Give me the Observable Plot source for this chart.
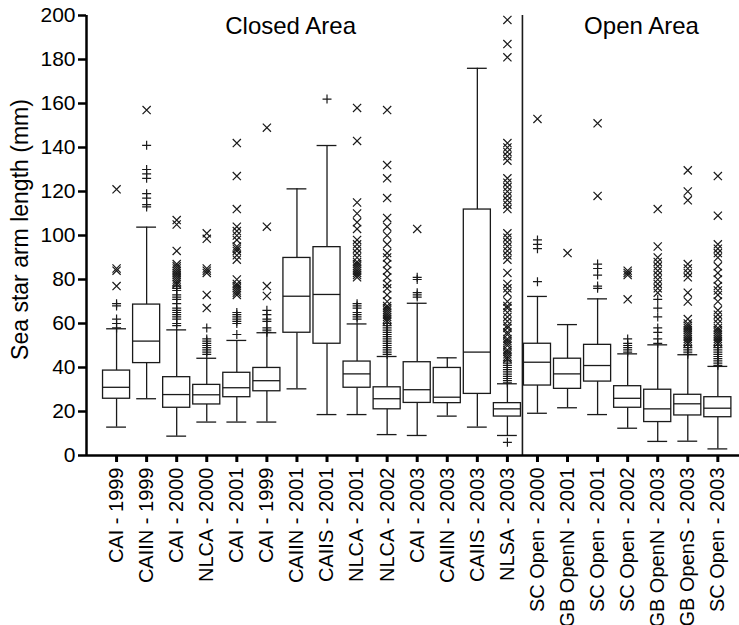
<!DOCTYPE html>
<html>
<head>
<meta charset="utf-8">
<script src="https://cdn.jsdelivr.net/npm/d3@7"></script>
<script src="https://cdn.jsdelivr.net/npm/@observablehq/plot@0.6"></script>
<style>
  html, body { margin: 0; padding: 0; background: #ffffff; }
  #chart { width: 739px; height: 625px; }
</style>
</head>
<body>
<div id="chart"></div>
<script>
const categories = ["CAI - 1999","CAIIN - 1999","CAI - 2000","NLCA - 2000","CAI - 2001","CAI - 1999","CAIIN - 2001","CAIIS - 2001","NLCA - 2001","NLCA - 2002","CAI - 2003","CAIIN - 2003","CAIIS - 2003","NLSA - 2003","SC Open - 2000","GB OpenN - 2001","SC Open - 2001","SC Open - 2002","GB OpenN - 2003","GB OpenS - 2003","SC Open - 2003"];

const lowWhisker  = [12.9, 25.8, 8.8, 15.2, 15.2, 15.2, 30.3, 18.6, 18.6, 9.5, 9.1, 17.9, 12.9, 9.1, 19.2, 21.7, 18.6, 12.4, 6.4, 6.5, 3];
const q1          = [25.8, 42, 21.7, 23.2, 26.5, 29.2, 55.8, 50.8, 30.8, 21, 23.9, 23.8, 28, 17.7, 31.8, 30.3, 33.6, 21.7, 15.2, 18.2, 17.4];
const median      = [31, 52, 27.7, 27.6, 30.8, 34, 72.4, 73.2, 37.1, 25.8, 29.9, 26.5, 47, 21.2, 42.4, 37.1, 40.9, 26, 21.2, 23.5, 21.5];
const q3          = [38.6, 68.6, 35.6, 32.1, 37.6, 39.8, 89.8, 94.7, 42.7, 31, 42.4, 39.8, 111.8, 23.8, 50.8, 44, 50.3, 31.5, 29.9, 27.6, 26.5];
const highWhisker = [57.6, 103.8, 57.1, 44.2, 52.3, 55.8, 121.2, 140.9, 59.8, 45, 69.2, 44.4, 176, 32.6, 72.3, 59.5, 71.2, 46.2, 50.3, 45.8, 40.5];

const plusOutliers = [
  [58, 60, 62, 68, 69],
  [113, 114, 117, 119, 126, 128, 130, 141],
  [59, 60, 62, 63, 64, 65, 66, 67, 69, 71, 72, 73, 75, 76, 77],
  [46, 47, 48, 49, 50, 51, 52, 53, 58],
  [55, 60, 61, 62, 63, 64, 65],
  [56, 57, 58, 61, 62, 64, 66],
  [],
  [162],
  [62, 63, 64, 65, 67, 68, 69],
  [46, 47, 48, 49, 50, 51, 52, 53, 54, 55, 56, 57, 58, 59, 60],
  [72, 73, 74, 80, 81],
  [],
  [],
  [6, 33, 34, 35, 36, 37, 38, 39, 40, 41, 42, 43],
  [79, 94, 96, 98],
  [],
  [76, 77, 82, 85, 87],
  [47, 48, 49, 50, 51, 53],
  [51, 53, 56, 58, 63, 67, 71],
  [46, 47, 48, 49, 50],
  [41, 42, 43, 44, 45, 46, 47, 48, 49, 50]
];

const timesOutliers = [
  [77, 84, 85, 121],
  [157],
  [78, 79, 80, 81, 82, 83, 84, 85, 86, 87, 93, 105, 107],
  [67, 73, 83, 84, 85, 98.5, 101],
  [73, 74, 75, 76, 77, 78, 80, 89, 91, 93, 94, 95, 98, 100, 102, 104, 112, 127, 142],
  [72.5, 77, 104, 149],
  [],
  [],
  [81, 82, 83, 84, 85, 86, 87, 88, 90, 92, 94, 96, 98, 103, 106, 110, 115, 143, 158],
  [61, 62, 63, 64, 65, 66, 67, 68, 70, 73, 76, 78, 81, 84, 87, 90, 92, 96, 100, 104, 108, 117, 126, 132, 157],
  [103],
  [],
  [],
  [44, 45, 46, 47, 48, 50, 51, 52, 53, 55, 56, 58, 59, 61, 63, 65, 67, 68, 70, 74, 76, 78, 83, 89, 91, 93, 95, 97, 99, 101, 112, 114, 116, 118, 120, 122, 124, 126, 134, 136, 138, 140, 142, 181, 187, 198],
  [153],
  [92],
  [118, 151],
  [71, 82, 83, 84],
  [74, 76, 78, 80, 82, 84, 86, 88, 90, 95, 112],
  [51, 52, 53, 54, 55, 56, 57, 58, 59, 60, 62, 70, 74, 81, 83, 85, 87, 116, 120, 129.6],
  [51, 52, 53, 54, 55, 56, 57, 58, 60, 62, 64, 66, 70, 73, 75, 77, 80, 83, 86, 90, 92, 94, 96, 109, 127]
];

const yTicks = [0, 20, 40, 60, 80, 100, 120, 140, 160, 180, 200];
const areaLabels = [
  {label: "Closed Area", x: 5.79, y: 195},
  {label: "Open Area", x: 17.46, y: 195}
];
const dividerAt = [13.5];
const yLabel = "Sea star arm length (mm)";

const boxes = categories.map((c, i) => ({
  i, c, lo: lowWhisker[i], q1: q1[i], med: median[i], q3: q3[i], hi: highWhisker[i]
}));
const outliers = [];
plusOutliers.forEach((arr, i) => arr.forEach(v => outliers.push({i, v, kind: "plus"})));
timesOutliers.forEach((arr, i) => arr.forEach(v => outliers.push({i, v, kind: "times"})));

const HALF = 0.45, CAP = 0.33;
const ink = "#1a1a1a";

const chart = Plot.plot({
  width: 739,
  height: 625,
  marginLeft: 86,
  marginRight: 0,
  marginTop: 15,
  marginBottom: 170,
  x: {domain: [-1, 20.72]},
  y: {domain: [0, 200]},
  style: {fontFamily: "'Liberation Sans', Arial, Helvetica, sans-serif", background: "#ffffff", color: "#000"},
  marks: [
    // whiskers
    Plot.ruleX(boxes, {x: "i", y1: "lo", y2: "q1", stroke: ink, strokeWidth: 1.3}),
    Plot.ruleX(boxes, {x: "i", y1: "q3", y2: "hi", stroke: ink, strokeWidth: 1.3}),
    Plot.ruleY(boxes, {y: "lo", x1: d => d.i - CAP, x2: d => d.i + CAP, stroke: ink, strokeWidth: 1.3}),
    Plot.ruleY(boxes, {y: "hi", x1: d => d.i - CAP, x2: d => d.i + CAP, stroke: ink, strokeWidth: 1.3}),
    // boxes
    Plot.rect(boxes, {x1: d => d.i - HALF, x2: d => d.i + HALF, y1: "q1", y2: "q3", fill: "#ffffff", stroke: ink, strokeWidth: 1.3}),
    Plot.ruleY(boxes, {y: "med", x1: d => d.i - HALF, x2: d => d.i + HALF, stroke: ink, strokeWidth: 1.3}),
    // outliers
    Plot.dot(outliers.filter(d => d.kind === "plus"), {x: "i", y: "v", symbol: "plus", r: 3, stroke: ink, strokeWidth: 1.2}),
    Plot.dot(outliers.filter(d => d.kind === "times"), {x: "i", y: "v", symbol: "times", r: 3.8, stroke: ink, strokeWidth: 1.2}),
    // divider
    Plot.ruleX(dividerAt, {y1: 0, y2: 200, stroke: ink, strokeWidth: 1.6}),
    // axes
    Plot.axisY({ticks: yTicks, tickSize: 8, tickPadding: 3, fontSize: 21, strokeWidth: 2.5, label: null, fill: "#000"}),
    Plot.axisX({ticks: d3.range(categories.length), tickFormat: i => categories[i], tickRotate: -90, tickSize: 7, tickPadding: 5, fontSize: 20, strokeWidth: 3, label: null, fill: "#000"}),
    Plot.ruleY([0], {stroke: "#000", strokeWidth: 2.5}),
    Plot.ruleX([-1], {y1: 0, y2: 200, stroke: "#000", strokeWidth: 2.5}),
    // labels
    Plot.text(areaLabels, {x: "x", y: "y", text: "label", fontSize: 24, fill: "#000"}),
    Plot.text([yLabel], {frameAnchor: "left", textAnchor: "middle", rotate: -90, dx: -66, dy: -6, fontSize: 23, fill: "#000"})
  ]
});
document.getElementById("chart").appendChild(chart);
</script>
</body>
</html>
